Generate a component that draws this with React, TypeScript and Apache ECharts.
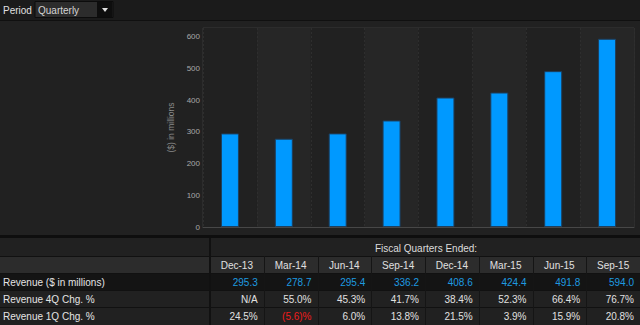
import React, { useEffect, useRef } from 'react';
import * as echarts from 'echarts';

const quarters = ['Dec-13', 'Mar-14', 'Jun-14', 'Sep-14', 'Dec-14', 'Mar-15', 'Jun-15', 'Sep-15'];
const revenue = [295.3, 278.7, 295.4, 336.2, 408.6, 424.4, 491.8, 594.0];
const revenueText = ['295.3', '278.7', '295.4', '336.2', '408.6', '424.4', '491.8', '594.0'];
const chg4Q = ['N/A', '55.0%', '45.3%', '41.7%', '38.4%', '52.3%', '66.4%', '76.7%'];
const chg1Q = ['24.5%', '(5.6)%', '6.0%', '13.8%', '21.5%', '3.9%', '15.9%', '20.8%'];
const rowLabels = ['Revenue ($ in millions)', 'Revenue 4Q Chg. %', 'Revenue 1Q Chg. %'];
const yAxisName = '($) in millions';
const tableTitle = 'Fiscal Quarters Ended:';
const periodLabel = 'Period';
const periodValue = 'Quarterly';

const FONT = 'Liberation Sans';

export default function App() {
  const ref = useRef<HTMLDivElement>(null);

  useEffect(() => {
    document.body.style.margin = '0';
    const chart = echarts.init(ref.current!, null, { renderer: 'svg' });

    const colX0 = 210;
    const colW = (640 - colX0) / quarters.length;
    const rowY = [274, 291, 308];
    const rowH = 17;

    const txt = (x: number, y: number, text: string, fill: string, size: number, align = 'left') => ({
      type: 'text',
      x,
      y,
      style: { text, fill, fontSize: size, fontFamily: FONT, align, verticalAlign: 'middle' },
    });

    const g: any[] = [];
    // top bar
    g.push({ type: 'rect', shape: { x: 0, y: 0, width: 640, height: 20 }, style: { fill: '#1b1b1b' } });
    g.push({ type: 'rect', shape: { x: 0, y: 20, width: 640, height: 1 }, style: { fill: '#101010' } });
    g.push(txt(3, 10, periodLabel, '#e0e0e0', 10));
    g.push({ type: 'rect', shape: { x: 35, y: 1.5, width: 78, height: 16 }, style: { fill: '#2c2c2c', stroke: '#0c0c0c', lineWidth: 1 } });
    g.push({ type: 'rect', shape: { x: 97, y: 2, width: 15.5, height: 15 }, style: { fill: '#0e0e0e' } });
    g.push({ type: 'polygon', shape: { points: [[102, 8], [108, 8], [105, 12]] }, style: { fill: '#e0e0e0' } });
    g.push(txt(38, 10, periodValue, '#d4d4d4', 10));

    // table
    g.push({ type: 'rect', shape: { x: 0, y: 235, width: 640, height: 3 }, style: { fill: '#0e0e0e' } });
    g.push({ type: 'rect', shape: { x: 0, y: 238, width: 640, height: 87 }, style: { fill: '#212121' } });
    g.push({ type: 'rect', shape: { x: 0, y: 257, width: 640, height: 16 }, style: { fill: '#2c2c2c' } });
    g.push({ type: 'rect', shape: { x: 0, y: 274, width: 640, height: 16 }, style: { fill: '#141414' } });
    [256, 273, 290, 307].forEach((y) => {
      g.push({ type: 'rect', shape: { x: 0, y, width: 640, height: 1 }, style: { fill: '#111111' } });
    });
    g.push({ type: 'rect', shape: { x: colX0 - 1, y: 238, width: 2, height: 87 }, style: { fill: '#111111' } });
    for (let i = 1; i < quarters.length; i++) {
      g.push({ type: 'rect', shape: { x: Math.round(colX0 + colW * i), y: 256, width: 1, height: 69 }, style: { fill: '#151515' } });
    }
    g.push(txt(426, 248, tableTitle, '#dcdcdc', 10, 'center'));
    quarters.forEach((q, i) => {
      g.push(txt(colX0 + colW * i + colW / 2, 265, q, '#e0e0e0', 10, 'center'));
    });
    rowLabels.forEach((t, r) => {
      g.push(txt(3, rowY[r] + rowH / 2 - 0.5, t, '#e4e4e4', 10));
    });
    const rows = [revenueText, chg4Q, chg1Q];
    rows.forEach((vals, r) => {
      vals.forEach((v, i) => {
        let fill = '#e0e0e0';
        if (r === 0) fill = '#1e9be0';
        else if (v.startsWith('(')) fill = '#ee1c1c';
        g.push(txt(colX0 + colW * (i + 1) - 6, rowY[r] + rowH / 2 - 0.5, v, fill, 10, 'right'));
      });
    });

    chart.setOption({
      animation: false,
      backgroundColor: '#212121',
      textStyle: { fontFamily: FONT },
      grid: {
        left: 203,
        right: 6,
        top: 28,
        height: 199,
        show: true,
        borderColor: '#393939',
        borderWidth: 1,
        backgroundColor: 'transparent',
      },
      xAxis: {
        type: 'category',
        data: quarters,
        boundaryGap: true,
        axisLabel: { show: false },
        axisTick: { show: false },
        axisLine: { show: true, lineStyle: { color: '#474747' } },
        splitLine: { show: true, interval: 0, lineStyle: { color: '#2e2e2e', type: [2, 2] } },
        splitArea: { show: true, interval: 0, areaStyle: { color: ['#212121', '#262626'] } },
      },
      yAxis: {
        type: 'value',
        min: 0,
        max: 628,
        interval: 100,
        name: yAxisName,
        nameLocation: 'middle',
        nameGap: 23,
        nameRotate: 90,
        nameTextStyle: { color: '#8a8a8a', fontSize: 8.5, fontFamily: FONT },
        axisLine: { show: false },
        axisTick: { show: false },
        axisLabel: {
          color: '#a8a8a8',
          fontSize: 8,
          fontFamily: FONT,
          margin: 3,
          formatter: (v: number) => (v % 100 === 0 ? String(v) : ''),
        },
        splitLine: { show: true, lineStyle: { color: '#343434', type: [2, 2] } },
      },
      series: [
        {
          type: 'bar',
          data: revenue,
          barWidth: 18,
          itemStyle: { color: '#0099ff', borderColor: '#1d3f5e', borderWidth: 1 },
        },
      ],
      graphic: { elements: g },
    });

    return () => chart.dispose();
  }, []);

  return <div ref={ref} style={{ width: 640, height: 325, position: 'absolute', left: 0, top: 0 }} />;
}
